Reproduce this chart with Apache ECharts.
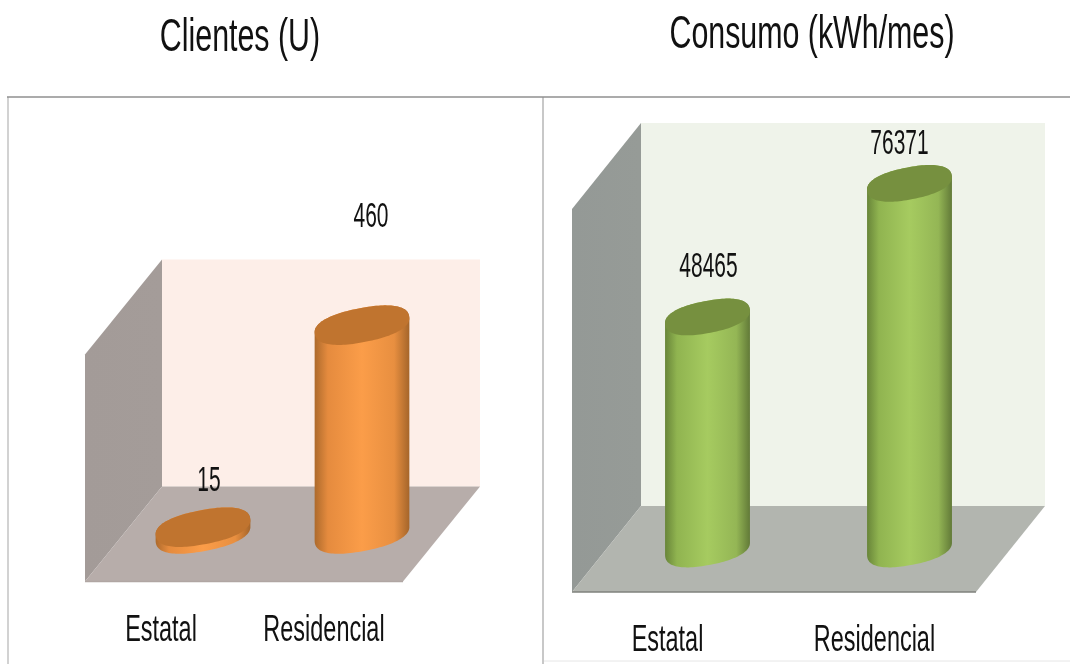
<!DOCTYPE html>
<html>
<head>
<meta charset="utf-8">
<style>html,body{margin:0;padding:0;background:#fff}#c{width:1070px;height:664px}</style>
<script src="https://cdn.jsdelivr.net/npm/echarts@6/dist/echarts.min.js"></script>
</head>
<body>
<div id="c"></div>
<script>
const categories = ['Estatal', 'Residencial'];
const clientesValues = [15, 460];
const consumoValues = [48465, 76371];
const clientesTitle = 'Clientes (U)';
const consumoTitle = 'Consumo (kWh/mes)';

const FONT = '"Liberation Sans", Arial, sans-serif';
const TILT = -11 * Math.PI / 180;
const ROUND = 0.86;
const STOPS = [0, 0.14, 0.5, 0.84, 1];

const panels = [
  {
    values: clientesValues, max: 500,
    grid: {left: 123.5, top: 307, width: 318, height: 227},
    depth: [38.5, 47.5], rx: 48, ry: 17,
    back: '#fdeee8', side: ['#a39b98', '#a49c99'], floor: '#b7adaa', edge: '#b0a6a3',
    body: ['#ad6a2c', '#e58b3e', '#fb9d49', '#e88f40', '#a5652a'], top: '#c0742f',
    valueOffset: [[6, -46], [9, -108]],
    catOffset: [-42, -38], catY: 631
  },
  {
    values: consumoValues, max: 80000,
    grid: {left: 606.5, top: 166, width: 404, height: 383},
    depth: [34.5, 43], rx: 43, ry: 16,
    back: '#eff3ea', side: ['#949996', '#969b97'], floor: '#b2b5af', edge: '#7f827d',
    body: ['#688539', '#90b450', '#a6cb60', '#94b655', '#627a38'], top: '#76903f',
    valueOffset: [[1, -50], [-10, -39]],
    catOffset: [-40, -35], catY: 641
  }
];

function pow(v) { return Math.sign(v) * Math.pow(Math.abs(v), ROUND); }
function ring(cx, cy, a, b) {
  const c = Math.cos(TILT), s = Math.sin(TILT), pts = [];
  for (let i = 0; i < 120; i++) {
    const t = i / 120 * 2 * Math.PI, u = a * pow(Math.cos(t)), w = b * pow(Math.sin(t));
    pts.push([cx + u * c - w * s, cy + u * s + w * c]);
  }
  return pts;
}
function slice(pts, from, to) {
  const out = [];
  for (let i = from; ; i = (i + 1) % pts.length) {
    out.push(pts[i]);
    if (i === to) break;
  }
  return out;
}
function label(text, x, y, size, sx) {
  return {type: 'text', x: x, y: y, scaleX: sx, z2: 50,
    style: {text: text, font: size + 'px ' + FONT, fill: '#111', align: 'center', verticalAlign: 'middle'}};
}

function roomRenderer(p) {
  return function (params) {
    const g = params.coordSys, dx = p.depth[0], dy = p.depth[1];
    const L = g.x, R = g.x + g.width, T = g.y, B = g.y + g.height;
    return {type: 'group', children: [
      {type: 'rect', shape: {x: L + dx, y: T - dy, width: g.width, height: g.height},
        style: {fill: p.back}},
      {type: 'polygon', shape: {points: [[L + dx, T - dy], [L + dx, B - dy], [L - dx, B + dy], [L - dx, T + dy]]},
        style: {fill: {type: 'linear', x: 0, y: 0, x2: 1, y2: 0,
          colorStops: [{offset: 0, color: p.side[0]}, {offset: 1, color: p.side[1]}]}}},
      {type: 'polygon', shape: {points: [[L + dx, B - dy], [R + dx, B - dy], [R - dx, B + dy], [L - dx, B + dy]]},
        style: {fill: p.floor}},
      {type: 'line', shape: {x1: L - dx, y1: B + dy, x2: R - dx, y2: B + dy},
        style: {stroke: p.edge, lineWidth: 1.5}}
    ]};
  };
}

function barRenderer(p) {
  return function (params, api) {
    const i = api.value(0), v = api.value(1);
    const top = api.coord([i, v]), base = api.coord([i, 0]);
    const cx = base[0];
    const topRing = ring(cx, top[1], p.rx, p.ry), baseRing = ring(cx, base[1], p.rx, p.ry);
    let right = 0, left = 0;
    baseRing.forEach((q, k) => {
      if (q[0] > baseRing[right][0]) right = k;
      if (q[0] < baseRing[left][0]) left = k;
    });
    const outline = slice(baseRing, right, left).concat(slice(topRing, left, right));
    const stops = p.body.map((c, k) => ({offset: STOPS[k], color: c}));
    const off = p.valueOffset[i];
    return {type: 'group', children: [
      {type: 'polygon', shape: {points: outline},
        style: {fill: {type: 'linear', x: 0, y: 0, x2: 1, y2: 0, colorStops: stops}}},
      {type: 'polygon', shape: {points: topRing}, style: {fill: p.top}},
      label(String(v), cx + off[0], top[1] + off[1], 35, 0.6),
      label(categories[i], cx + p.catOffset[i], p.catY, 37, 0.634)
    ]};
  };
}

const grids = [], xAxes = [], yAxes = [], series = [];
panels.forEach((p, n) => {
  grids.push(p.grid);
  xAxes.push({type: 'category', gridIndex: n, data: categories, show: false});
  yAxes.push({type: 'value', gridIndex: n, min: 0, max: p.max, show: false});
  series.push({type: 'custom', xAxisIndex: n, yAxisIndex: n, z: 1, silent: true, clip: false,
    data: [[0, 0]], renderItem: roomRenderer(p), animation: false});
  series.push({type: 'custom', xAxisIndex: n, yAxisIndex: n, z: 2, silent: true, clip: false,
    encode: {x: 0, y: 1},
    data: p.values.map((v, i) => [i, v]), renderItem: barRenderer(p), animation: false});
});

function frameLine(x1, y1, x2, y2, color, w) {
  return {type: 'line', shape: {x1, y1, x2, y2}, silent: true, style: {stroke: color, lineWidth: w}};
}
function titleText(text, x, y, sx) {
  return {type: 'text', x: x, y: y, scaleX: sx, silent: true,
    style: {text: text, font: '46px ' + FONT, fill: '#111', align: 'center', verticalAlign: 'middle'}};
}

echarts.init(document.getElementById('c'), null, {renderer: 'canvas'}).setOption({
  animation: false,
  backgroundColor: '#ffffff',
  grid: grids, xAxis: xAxes, yAxis: yAxes, series: series,
  graphic: [
    frameLine(8, 664, 8, 97, '#d2d2d2', 2),
    frameLine(543, 664, 543, 97, '#c8c8c8', 2),
    frameLine(544, 661, 1070, 661, '#e6e6e6', 1),
    frameLine(7, 97, 1070, 97, '#8f8f8f', 1.5),
    titleText(clientesTitle, 240, 38, 0.66),
    titleText(consumoTitle, 812, 35, 0.66)
  ]
});
</script>
</body>
</html>
